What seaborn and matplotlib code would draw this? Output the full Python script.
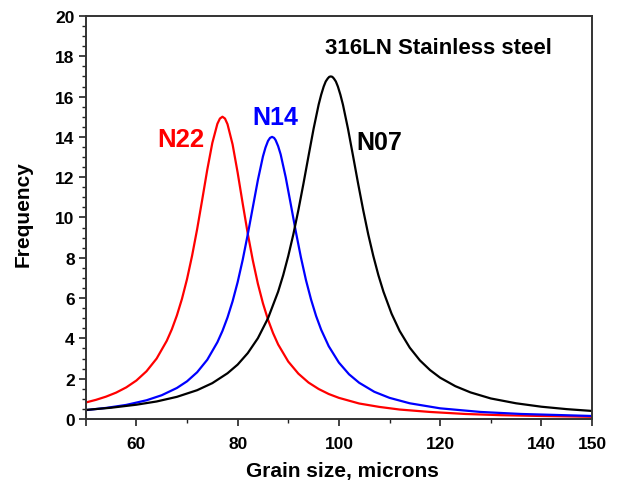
import numpy as np
import pandas as pd
import seaborn as sns
import matplotlib
matplotlib.use('Agg')
import matplotlib.pyplot as plt
from matplotlib.ticker import MultipleLocator

# values
n22_x = [50, 52, 54, 56, 58, 60, 62, 64, 66, 67, 68, 69, 70, 71, 72, 73, 74, 75, 76, 76.5, 77,
         77.5, 78, 79, 80, 81, 82, 83, 84, 85, 86, 87, 88, 90, 92, 94, 96, 98, 100, 104, 108,
         112, 118, 125, 132, 140, 150]
n22_y = [0.82, 0.95, 1.11, 1.31, 1.57, 1.91, 2.37, 3.0, 3.88, 4.45, 5.14, 5.96, 6.94, 8.10,
         9.42, 10.88, 12.37, 13.70, 14.65, 14.91, 15.0, 14.91, 14.63, 13.63, 12.23, 10.69, 9.20,
         7.87, 6.71, 5.74, 4.93, 4.26, 3.70, 2.85, 2.25, 1.81, 1.49, 1.24, 1.05, 0.77, 0.60,
         0.47, 0.35, 0.25, 0.19, 0.15, 0.11]

n14_x = [50, 54, 58, 62, 65, 68, 70, 72, 74, 76, 77, 78, 79, 80, 81, 82, 83, 84, 85, 85.5, 86,
         86.4, 86.8, 87.2, 87.5, 88, 88.5, 89.5, 90.5, 91.5, 92.5, 93.5, 94.5, 95.5, 96.5, 98,
         100, 102, 104, 107, 110, 114, 120, 128, 136, 150]
n14_y = [0.44, 0.55, 0.70, 0.93, 1.18, 1.54, 1.87, 2.32, 2.94, 3.81, 4.37, 5.04, 5.84, 6.79,
         7.90, 9.16, 10.51, 11.86, 13.03, 13.47, 13.80, 13.95, 14.0, 13.95, 13.84, 13.54,
         13.13, 11.99, 10.65, 9.29, 8.02, 6.89, 5.93, 5.11, 4.43, 3.61, 2.80, 2.22, 1.80, 1.35,
         1.05, 0.78, 0.53, 0.35, 0.25, 0.15]

n07_x = [50, 55, 60, 64, 68, 72, 75, 78, 80, 82, 84, 86, 88, 89, 90, 91, 92, 93, 94, 95, 96,
         96.5, 97, 97.4, 97.8, 98.1, 98.4, 98.7, 99, 99.4, 99.8, 100.3, 100.8, 101.8, 102.8,
         103.8, 104.8, 105.8, 106.8, 107.8, 108.8, 110.4, 112, 114, 116, 118, 120, 123, 126,
         130, 135, 140, 145, 150]
n07_y = [0.45, 0.56, 0.71, 0.87, 1.10, 1.43, 1.78, 2.27, 2.70, 3.27, 4.01, 5.0, 6.32, 7.14,
         8.09, 9.16, 10.37, 11.68, 13.05, 14.40, 15.60, 16.09, 16.50, 16.75, 16.90, 16.98,
         17.0, 16.98, 16.90, 16.75, 16.50, 16.09, 15.60, 14.40, 13.05, 11.68, 10.37, 9.16,
         8.09, 7.14, 6.32, 5.23, 4.37, 3.54, 2.91, 2.43, 2.05, 1.63, 1.32, 1.02, 0.78, 0.61,
         0.49, 0.40]

x_ticks = [50, 60, 80, 100, 120, 140, 150]
x_tick_labels = ['', '60', '80', '100', '120', '140', '150']

sns.set_theme(style='ticks')
plt.rcParams['font.family'] = ['Liberation Sans', 'DejaVu Sans']
plt.rcParams['font.weight'] = 'bold'
plt.rcParams['text.color'] = 'black'
plt.rcParams['axes.labelcolor'] = 'black'

fig = plt.figure(figsize=(6.17, 4.85), dpi=100)
ax = fig.add_axes([0.139, 0.134, 0.8205, 0.831])

sns.lineplot(x=n22_x, y=n22_y, color='#ff0000', lw=1.6, ax=ax, sort=False)
sns.lineplot(x=n14_x, y=n14_y, color='#0000ff', lw=1.6, ax=ax, sort=False)
sns.lineplot(x=n07_x, y=n07_y, color='black', lw=1.6, ax=ax, sort=False)

ax.set_xlim(50, 150)
ax.set_ylim(0, 20)
ax.set_xticks(x_ticks)
ax.set_xticklabels(x_tick_labels)
ax.xaxis.set_minor_locator(plt.FixedLocator([70, 90, 110, 130]))
ax.set_yticks(np.arange(0, 21, 2))
ax.yaxis.set_minor_locator(MultipleLocator(0.5))
ax.tick_params(which='major', length=5, width=1.2, labelsize=12.5, colors='#222222',
               labelcolor='black', pad=3)
ax.tick_params(axis='x', which='major', pad=7)
ax.tick_params(which='minor', length=3, width=1.0, colors='#222222')
for lab in ax.get_xticklabels() + ax.get_yticklabels():
    lab.set_fontweight('bold')

for s in ax.spines.values():
    s.set_visible(True)
    s.set_linewidth(1.4)
    s.set_color('#333333')

ax.set_xlabel('Grain size, microns', fontsize=15, fontweight='bold')
ax.set_ylabel('Frequency', fontsize=15, fontweight='bold')
ax.xaxis.set_label_coords(0.508, -0.105)
ax.yaxis.set_label_coords(-0.105, 0.511)

ax.text(68.8, 13.9, 'N22', color='#ff0000', fontsize=18.5, fontweight='bold',
        ha='center', va='center')
ax.text(87.4, 15.0, 'N14', color='#0000ff', fontsize=18, fontweight='bold',
        ha='center', va='center')
ax.text(107.9, 13.75, 'N07', color='black', fontsize=18, fontweight='bold',
        ha='center', va='center')
ax.text(119.6, 18.45, '316LN Stainless steel', color='black', fontsize=16, fontweight='bold',
        ha='center', va='center')

fig.savefig('out.png', dpi=100)
